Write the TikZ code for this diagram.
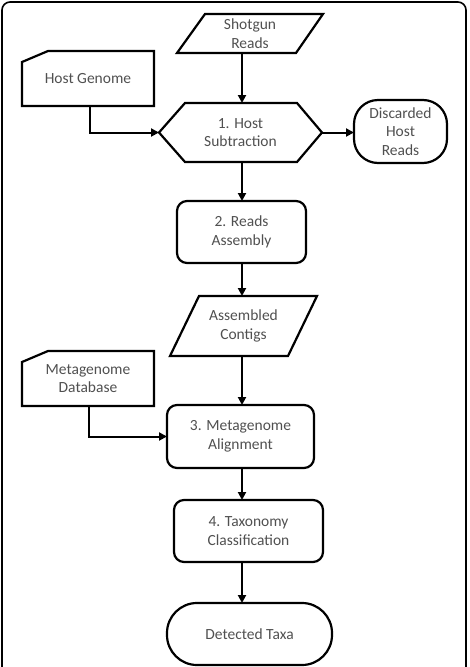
\documentclass[tikz,border=0pt]{standalone}
\usepackage{fontspec}
\setmainfont{Carlito}
\usetikzlibrary{arrows.meta,calc}
\definecolor{txt}{HTML}{505050}
\begin{document}
\begin{tikzpicture}[x=1pt,y=-1pt,
  box/.style={inner sep=0pt,outer sep=0pt,align=center,text=txt,
    font=\fontsize{15.5}{18.5}\selectfont},
  outl/.style={line width=2.2pt,line join=miter},
  arr/.style={line width=2pt,-{Triangle[length=8pt,width=8pt]}}]
\useasboundingbox (0,0) rectangle (469,667);
% frame
\draw[line width=1.6pt,rounded corners=8] (2,670) -- (2,2) -- (466,2) -- (466,670);

% nodes (exact bounding sizes)
\node[box,minimum width=146pt,minimum height=39pt] (shot) at (250,33.5) {Shotgun\\Reads};
\node[box,minimum width=132pt,minimum height=55pt] (hg) at (88,78.5) {Host Genome};
\node[box,minimum width=163pt,minimum height=59pt] (hex) at (240.5,132.5) {1. Host\\Subtraction};
\node[box,minimum width=93pt,minimum height=63pt] (disc) at (400.5,131.5) {Discarded\\Host\\Reads};
\node[box,minimum width=129pt,minimum height=62pt] (asm) at (241.5,232) {2. Reads\\Assembly};
\node[box,minimum width=147pt,minimum height=60pt] (cont) at (243.5,326) {Assembled\\Contigs};
\node[box,minimum width=132pt,minimum height=55pt] (mdb) at (88,378.5) {Metagenome\\Database};
\node[box,minimum width=147pt,minimum height=63pt] (aln) at (240.5,436.5) {3. Metagenome\\Alignment};
\node[box,minimum width=149pt,minimum height=62pt] (tax) at (248.5,531) {4. Taxonomy\\Classification};
\node[box,minimum width=165pt,minimum height=62pt] (det) at (249.5,634) {Detected Taxa};

% outlines
\draw[outl] ($(shot.north west)+(28,0)$) -- (shot.north east) -- ($(shot.south east)+(-27,0)$) -- (shot.south west) -- cycle;
\draw[outl] ($(hg.north west)+(0,11)$) -- ($(hg.north west)+(26,0)$) -- (hg.north east) -- (hg.south east) -- (hg.south west) -- cycle;
\draw[outl] (hex.west) -- ($(hex.north west)+(26,0)$) -- ($(hex.north east)+(-25,0)$) -- (hex.east) -- ($(hex.south east)+(-25,0)$) -- ($(hex.south west)+(26,0)$) -- cycle;
\draw[outl,rounded corners=24] (disc.north west) rectangle (disc.south east);
\draw[outl,rounded corners=10] (asm.north west) rectangle (asm.south east);
\draw[outl] ($(cont.north west)+(29,0)$) -- (cont.north east) -- ($(cont.south east)+(-29,0)$) -- (cont.south west) -- cycle;
\draw[outl] ($(mdb.north west)+(0,11)$) -- ($(mdb.north west)+(26,0)$) -- (mdb.north east) -- (mdb.south east) -- (mdb.south west) -- cycle;
\draw[outl,rounded corners=10] (aln.north west) rectangle (aln.south east);
\draw[outl,rounded corners=10] (tax.north west) rectangle (tax.south east);
\draw[outl,rounded corners=30] (det.north west) rectangle (det.south east);

% connectors
\coordinate (col) at (242,0);
\draw[arr] (shot.south -| col) -- (hex.north -| col);
\draw[arr] ($(hg.south)+(2,0)$) |- (hex.west);
\draw[arr] (hex.east) -- (disc.west |- hex.east);
\draw[arr] (hex.south -| col) -- (asm.north -| col);
\draw[arr] (asm.south -| col) -- (cont.north -| col);
\draw[arr] (cont.south -| col) -- (aln.north -| col);
\draw[arr] ($(mdb.south)+(1,0)$) |- (aln.west);
\draw[arr] (aln.south -| col) -- (tax.north -| col);
\draw[arr] (tax.south -| col) -- (det.north -| col);
\end{tikzpicture}
\end{document}
